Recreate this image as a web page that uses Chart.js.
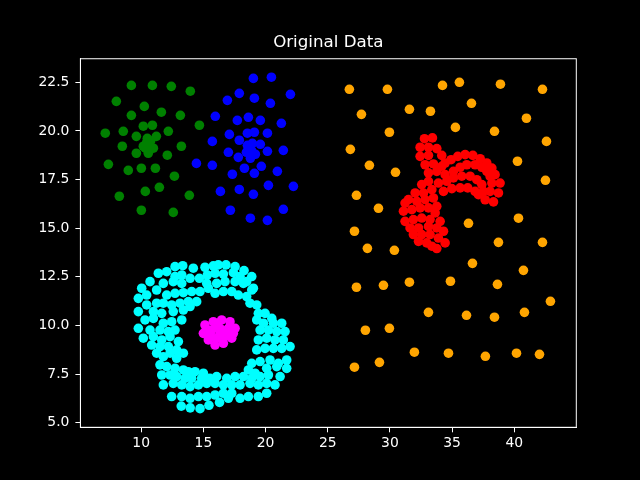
<!DOCTYPE html>
<html>
<head>
<meta charset="utf-8">
<script src="https://cdn.jsdelivr.net/npm/chart.js@4/dist/chart.umd.min.js"></script>
<style>
  html, body { margin: 0; padding: 0; background: #000; }
  #wrap { width: 640px; height: 480px; }
</style>
</head>
<body>
<div id="wrap"><canvas id="scatterChart" width="640" height="480"></canvas></div>
<script>
// cluster points, [x, y]
const greenPts = [
  [9.21,22.34],[10.90,22.34],[12.42,22.29],[13.95,22.04],[8.00,21.52],[10.25,21.26],
  [9.21,20.80],[11.62,20.96],[13.15,20.80],[14.68,20.29],[10.17,20.24],[10.90,20.29],
  [7.11,19.88],[8.56,19.98],[9.61,19.72],[12.18,19.98],[10.49,19.62],[11.22,19.72],
  [8.48,19.21],[10.17,19.21],[10.65,19.31],[10.98,19.11],[13.23,19.21],[9.61,18.85],
  [10.57,18.85],[12.10,18.75],[7.36,18.28],[8.96,17.97],[10.01,18.08],[11.14,18.08],
  [12.67,17.67],[8.24,16.64],[10.33,16.89],[11.46,17.10],[13.87,16.69],[10.01,15.92],
  [12.58,15.81],[10.44,19.41],[10.76,19.48],[10.33,19.11]
];
const bluePts = [
  [19.02,22.70],[20.47,22.76],[17.89,21.93],[16.93,21.57],[19.10,21.68],[20.39,21.42],
  [22.00,21.88],[15.96,20.75],[17.73,20.54],[18.62,20.70],[19.58,20.54],[21.27,20.39],
  [17.09,19.82],[18.54,19.88],[19.10,19.93],[20.15,19.88],[15.72,19.46],[17.89,19.52],
  [18.54,19.26],[18.94,19.36],[19.58,19.31],[17.01,18.90],[17.81,18.64],[18.46,18.90],
  [18.78,18.59],[19.18,18.80],[20.15,18.95],[21.43,19.00],[14.44,18.33],[15.72,18.23],
  [18.30,18.08],[19.66,18.18],[17.33,17.77],[19.10,17.82],[20.95,17.92],[16.37,16.89],
  [17.89,16.99],[19.02,16.74],[20.23,17.20],[22.24,17.15],[17.17,15.92],[18.78,15.51],
  [20.15,15.40],[21.43,15.97],[18.62,19.11],[18.89,18.97]
];
const orangePts = [
  [26.74,22.14],[29.80,22.14],[34.23,22.34],[35.59,22.50],[38.89,22.40],[42.27,22.14],
  [27.71,20.85],[31.57,21.11],[33.26,21.01],[36.56,21.42],[40.98,20.65],[29.96,19.93],
  [35.27,20.18],[38.41,19.98],[26.82,19.05],[42.59,19.46],[28.35,18.23],[30.45,17.87],
  [40.26,18.44],[27.31,16.69],[42.51,17.46],[29.08,16.02],[27.15,14.84],[36.32,15.25],
  [40.34,15.51],[28.19,13.96],[30.36,13.86],[38.73,14.27],[42.27,14.27],[36.64,13.19],
  [40.74,12.83],[27.31,11.96],[29.48,12.06],[31.57,12.22],[34.87,12.27],[38.65,12.11],
  [42.91,11.24],[33.10,10.67],[36.16,10.52],[38.41,10.42],[40.82,10.67],[28.03,9.75],
  [29.96,9.85],[31.97,8.62],[34.71,8.57],[37.68,8.41],[40.18,8.57],[42.03,8.51],
  [27.15,7.85],[29.16,8.10]
];
const redPts = [
  [32.78,19.60],[33.42,19.64],[32.43,19.16],[33.10,19.16],[33.77,19.09],[32.43,18.69],
  [33.10,18.74],[34.17,18.74],[32.83,18.26],[33.50,18.30],[33.10,17.84],[33.77,17.92],
  [34.17,18.18],[34.44,18.35],[34.92,18.52],[35.46,18.69],[36.05,18.78],[36.67,18.74],
  [37.26,18.57],[37.79,18.35],[38.20,18.09],[38.46,17.75],[38.86,17.32],[38.73,16.81],
  [38.33,16.35],[34.44,17.75],[35.11,17.92],[35.65,18.13],[36.18,18.26],[36.85,18.26],
  [37.39,18.13],[37.79,17.92],[38.06,17.66],[38.20,17.32],[38.06,16.89],[37.66,16.46],
  [33.90,17.32],[34.57,17.41],[35.11,17.58],[35.78,17.67],[36.45,17.67],[36.99,17.49],
  [37.39,17.24],[37.52,16.89],[37.12,16.72],[34.31,16.89],[34.98,17.03],[35.65,17.07],
  [36.26,17.07],[36.85,16.89],[32.56,17.24],[33.10,17.41],[32.03,16.81],[32.70,16.81],
  [33.37,16.98],[31.49,16.47],[32.16,16.38],[32.83,16.47],[33.50,16.55],[33.77,16.12],
  [31.22,16.29],[31.09,15.87],[31.76,15.95],[32.43,16.04],[33.10,16.04],[33.64,15.78],
  [31.22,15.35],[31.89,15.44],[32.56,15.52],[33.23,15.44],[34.04,15.35],[31.62,15.01],
  [32.30,15.01],[33.10,15.09],[33.77,15.01],[34.31,14.84],[31.89,14.67],[32.56,14.67],
  [33.23,14.67],[33.90,14.49],[34.44,14.24],[32.30,14.32],[32.96,14.24],[33.37,14.07],
  [33.77,13.95]
];
const cyanPts = [
  [12.72,13.02],[13.34,13.07],[14.19,12.94],[15.13,12.99],[15.80,13.06],[16.20,13.11],
  [16.82,13.11],[17.55,13.02],[18.27,12.82],[18.89,12.51],
  [11.38,12.68],[12.05,12.76],[12.72,12.51],[13.26,12.59],[13.93,12.42],[14.68,12.42],
  [15.32,12.59],[15.94,12.68],[16.61,12.64],[17.41,12.71],[17.95,12.51],[18.48,12.25],
  [19.02,11.91],
  [10.71,12.25],[11.78,12.16],[12.58,12.25],[13.26,12.16],[15.27,12.16],[16.07,12.16],
  [16.74,12.25],[17.55,12.25],[18.22,12.16],[18.89,11.82],
  [10.04,11.91],[11.24,11.82],[12.05,11.56],[12.72,11.65],[13.39,11.68],[14.06,11.74],
  [14.73,11.74],[15.40,11.91],[15.94,11.65],[16.61,11.74],[17.28,11.74],[17.81,11.56],
  [18.48,11.48],
  [9.77,11.39],[10.44,11.56],[11.24,11.14],[11.78,11.14],[12.45,11.05],[13.12,11.14],
  [13.79,11.22],[14.46,11.22],[18.75,11.14],[19.29,11.05],
  [9.77,10.71],[10.44,11.05],[10.98,10.71],[11.65,10.62],[12.58,10.71],[13.39,10.79],
  [13.93,10.97],[19.42,10.62],[19.96,10.62],[20.50,10.36],
  [10.31,10.28],[10.98,10.36],[11.78,10.11],[12.45,10.19],[13.26,10.28],[19.29,10.28],
  [19.83,10.11],[20.63,10.11],[21.30,10.11],
  [9.77,9.85],[10.71,9.76],[11.51,9.76],[12.18,9.68],[12.72,9.76],[19.56,9.76],
  [20.23,9.76],[20.90,9.68],[21.57,9.68],
  [10.17,9.34],[10.98,9.42],[11.65,9.25],[12.32,9.42],[12.99,9.17],[19.42,9.25],
  [20.09,9.34],[20.76,9.25],[21.43,9.25],
  [10.84,8.99],[11.51,8.91],[12.18,8.91],[12.85,8.74],[19.29,8.74],[19.96,8.82],
  [20.63,8.82],[21.30,8.82],[21.97,8.91],
  [11.24,8.57],[11.78,8.39],[12.32,8.57],[12.85,8.31],[13.39,8.57],[18.89,8.05],
  [19.56,8.14],[20.36,8.22],[21.03,8.05],[21.70,8.22],
  [11.51,7.97],[12.05,7.88],[12.72,7.79],[13.39,7.71],[13.79,7.62],[14.33,7.62],
  [15.00,7.54],[18.62,7.71],[19.16,7.54],[20.09,7.79],[20.90,7.88],[21.70,7.79],
  [11.65,7.45],[12.32,7.45],[12.85,7.37],[13.52,7.28],[14.06,7.28],[14.86,7.28],
  [15.53,7.28],[16.07,7.37],[16.88,7.28],[17.55,7.37],[18.22,7.37],[18.89,7.28],
  [19.56,7.37],[20.23,7.45],[21.17,7.37],
  [11.78,6.94],[12.58,7.02],[13.26,6.94],[13.93,6.85],[14.60,6.94],[15.27,7.02],
  [15.94,7.02],[16.61,6.94],[17.28,6.94],[17.95,6.94],[18.75,7.02],[19.42,6.94],
  [20.09,7.02],[20.76,6.94],
  [12.45,6.34],[13.26,6.34],[13.93,6.25],[14.60,6.34],[15.27,6.34],[15.94,6.42],
  [16.61,6.51],[17.28,6.51],[17.95,6.25],[18.62,6.34],[19.42,6.34],[20.09,6.51],
  [13.22,5.85],[13.94,5.76],[14.73,5.72],[15.45,5.89],[16.30,6.04],[17.01,6.25]
];
const magentaPts = [
  [15.13,10.02],[15.80,10.19],[16.47,10.28],[17.14,10.19],[17.55,9.85],[15.00,9.59],
  [15.67,9.76],[16.34,9.85],[17.01,9.85],[15.40,9.25],[16.07,9.34],[16.74,9.42],
  [17.28,9.34],[15.94,8.99],[16.61,9.08],[16.34,9.59],[15.54,9.51],[16.88,9.59],
  [15.27,9.76],[16.07,10.02],[17.41,9.59]
];

const xTicks = [10, 15, 20, 25, 30, 35, 40];
const yTicks = [5.0, 7.5, 10.0, 12.5, 15.0, 17.5, 20.0, 22.5];

function toXY(pts) {
  return pts.map(p => ({ x: p[0], y: p[1] }));
}

function cluster(pts, color) {
  return {
    data: toXY(pts),
    backgroundColor: color,
    borderColor: color,
    borderWidth: 0,
    pointRadius: 4.8,
    pointHoverRadius: 4.8
  };
}

// white box round the plot area, like matplotlib spines
const frame = {
  id: 'frame',
  beforeDatasetsDraw(chart) {
    const a = chart.chartArea, c = chart.ctx;
    c.save();
    c.strokeStyle = '#ffffff';
    c.lineWidth = 1;
    c.strokeRect(a.left, a.top, a.right - a.left, a.bottom - a.top);
    c.restore();
  }
};

const tickFont = { family: 'DejaVu Sans', size: 13.9 };

const ctx = document.getElementById('scatterChart').getContext('2d');
const chart = new Chart(ctx, {
  type: 'scatter',
  data: {
    datasets: [
      cluster(greenPts, '#008000'),
      cluster(bluePts, '#0000ff'),
      cluster(orangePts, '#ffa500'),
      cluster(redPts, '#ff0000'),
      cluster(cyanPts, '#00ffff'),
      cluster(magentaPts, '#ff00ff')
    ]
  },
  options: {
    responsive: false,
    animation: false,
    devicePixelRatio: 1,
    layout: { padding: { left: 0, right: 63.7, top: 0, bottom: 0 } },
    scales: {
      x: {
        type: 'linear',
        min: 5.11,
        max: 44.99,
        afterBuildTicks: s => { s.ticks = xTicks.map(v => ({ value: v })); },
        afterFit: s => { s.height = 52.7; },
        ticks: { color: '#ffffff', font: tickFont, padding: 3, callback: v => String(v) },
        grid: { display: true, drawOnChartArea: false, drawTicks: true, tickLength: 5, color: '#ffffff' },
        border: { display: true, color: '#ffffff' }
      },
      y: {
        type: 'linear',
        min: 4.76,
        max: 23.71,
        afterBuildTicks: s => { s.ticks = yTicks.map(v => ({ value: v })); },
        afterFit: s => { s.width = 80.4; },
        ticks: { color: '#ffffff', font: tickFont, padding: 6, callback: v => Number(v).toFixed(1) },
        grid: { display: true, drawOnChartArea: false, drawTicks: true, tickLength: 5, color: '#ffffff' },
        border: { display: true, color: '#ffffff' }
      }
    },
    plugins: {
      legend: { display: false },
      tooltip: { enabled: false },
      title: {
        display: true,
        text: 'Original Data',
        color: '#ffffff',
        fullSize: false,
        font: { family: 'DejaVu Sans', size: 16.7, weight: 'normal' },
        padding: { top: 33, bottom: 5.7 }
      }
    }
  },
  plugins: [frame]
});
</script>
</body>
</html>
